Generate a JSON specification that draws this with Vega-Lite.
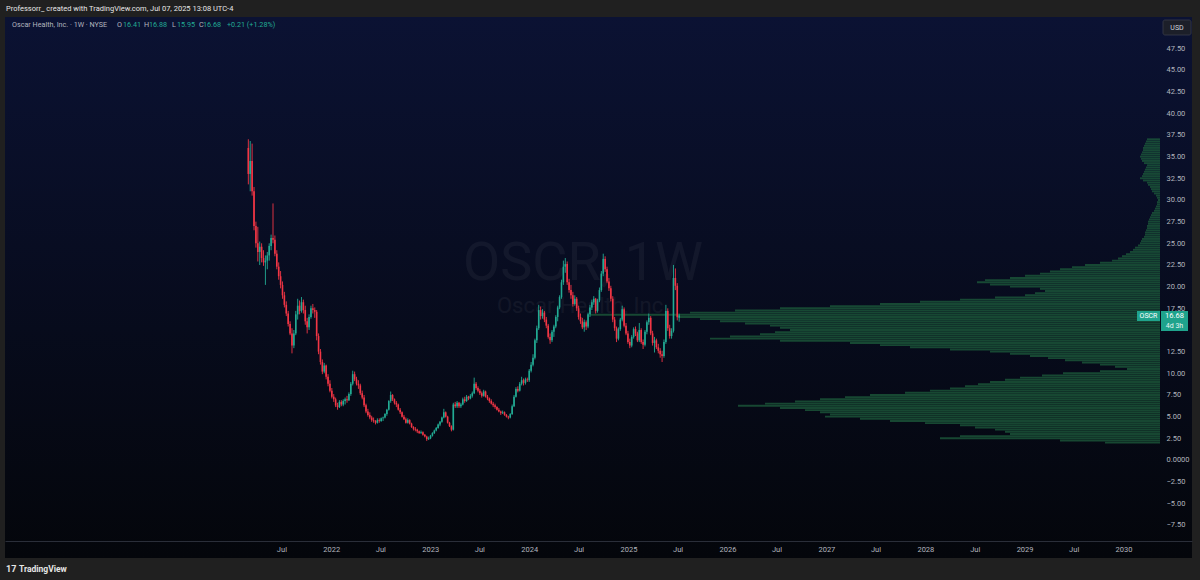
{
"$schema": "https://vega.github.io/schema/vega-lite/v6.json",
"width": 1187, "height": 541,
"autosize": {"type": "none"},
"padding": {"left": 5, "top": 17, "right": 8, "bottom": 22},
"background": "#202020",
"config": {"view": {"stroke": null}, "font": "Roboto", "text": {"font": "Roboto"}, "axis": {"labelOverlap": false}},
"datasets": {
"ohlc": [
{"d":"2021-03-01","o":36.0,"h":37.0,"l":31.8,"c":33.0},
{"d":"2021-03-08","o":33.0,"h":36.8,"l":31.0,"c":34.5},
{"d":"2021-03-15","o":34.5,"h":36.5,"l":30.5,"c":31.0},
{"d":"2021-03-22","o":31.0,"h":31.5,"l":26.5,"c":27.0},
{"d":"2021-03-29","o":27.0,"h":27.5,"l":24.5,"c":25.0},
{"d":"2021-04-05","o":25.0,"h":26.9,"l":22.9,"c":24.0},
{"d":"2021-04-12","o":24.0,"h":25.2,"l":22.5,"c":24.6},
{"d":"2021-04-19","o":24.6,"h":25.0,"l":22.8,"c":23.3},
{"d":"2021-04-26","o":23.3,"h":24.2,"l":22.4,"c":22.8},
{"d":"2021-05-03","o":22.8,"h":23.6,"l":20.2,"c":23.0},
{"d":"2021-05-10","o":23.0,"h":24.0,"l":22.0,"c":23.6},
{"d":"2021-05-17","o":23.6,"h":25.0,"l":23.0,"c":24.7},
{"d":"2021-05-24","o":24.7,"h":26.0,"l":24.2,"c":25.6},
{"d":"2021-05-31","o":25.6,"h":29.6,"l":25.0,"c":25.4},
{"d":"2021-06-07","o":25.4,"h":25.9,"l":23.5,"c":23.8},
{"d":"2021-06-14","o":23.8,"h":24.2,"l":22.0,"c":22.3},
{"d":"2021-06-21","o":22.3,"h":22.8,"l":20.8,"c":21.2},
{"d":"2021-06-28","o":21.2,"h":21.8,"l":19.8,"c":20.2},
{"d":"2021-07-05","o":20.2,"h":20.6,"l":18.6,"c":19.0},
{"d":"2021-07-12","o":19.0,"h":19.4,"l":17.6,"c":17.9},
{"d":"2021-07-19","o":17.9,"h":18.3,"l":16.6,"c":16.9},
{"d":"2021-07-26","o":16.9,"h":17.2,"l":15.4,"c":15.7},
{"d":"2021-08-02","o":15.7,"h":16.0,"l":14.4,"c":14.6},
{"d":"2021-08-09","o":14.6,"h":15.2,"l":12.3,"c":13.2},
{"d":"2021-08-16","o":13.2,"h":15.0,"l":12.9,"c":14.6},
{"d":"2021-08-23","o":14.6,"h":17.2,"l":14.4,"c":16.8},
{"d":"2021-08-30","o":16.8,"h":18.6,"l":16.2,"c":17.8},
{"d":"2021-09-06","o":17.8,"h":18.4,"l":16.8,"c":17.2},
{"d":"2021-09-13","o":17.2,"h":18.8,"l":17.0,"c":18.2},
{"d":"2021-09-20","o":18.2,"h":18.5,"l":16.9,"c":17.3},
{"d":"2021-09-27","o":17.3,"h":17.8,"l":15.6,"c":16.0},
{"d":"2021-10-04","o":16.0,"h":16.4,"l":14.6,"c":15.3},
{"d":"2021-10-11","o":15.3,"h":16.8,"l":15.0,"c":16.5},
{"d":"2021-10-18","o":16.5,"h":17.8,"l":16.3,"c":17.5},
{"d":"2021-10-25","o":17.5,"h":18.0,"l":16.9,"c":17.3},
{"d":"2021-11-01","o":17.3,"h":17.6,"l":16.4,"c":17.1},
{"d":"2021-11-08","o":17.1,"h":17.3,"l":13.8,"c":14.3},
{"d":"2021-11-15","o":14.3,"h":14.6,"l":12.2,"c":12.5},
{"d":"2021-11-22","o":12.5,"h":12.8,"l":11.0,"c":11.3},
{"d":"2021-11-29","o":11.3,"h":11.6,"l":9.9,"c":10.2},
{"d":"2021-12-06","o":10.2,"h":11.2,"l":10.0,"c":10.9},
{"d":"2021-12-13","o":10.9,"h":11.0,"l":9.3,"c":9.6},
{"d":"2021-12-20","o":9.6,"h":9.9,"l":8.5,"c":8.8},
{"d":"2021-12-27","o":8.8,"h":9.2,"l":7.8,"c":8.0},
{"d":"2022-01-03","o":8.0,"h":8.3,"l":7.1,"c":7.3},
{"d":"2022-01-10","o":7.3,"h":7.6,"l":6.7,"c":7.0},
{"d":"2022-01-17","o":7.0,"h":7.2,"l":6.1,"c":6.3},
{"d":"2022-01-24","o":6.3,"h":6.6,"l":5.8,"c":6.1},
{"d":"2022-01-31","o":6.1,"h":6.9,"l":6.0,"c":6.7},
{"d":"2022-02-07","o":6.7,"h":6.9,"l":6.2,"c":6.4},
{"d":"2022-02-14","o":6.4,"h":7.0,"l":6.2,"c":6.8},
{"d":"2022-02-21","o":6.8,"h":7.2,"l":6.4,"c":7.0},
{"d":"2022-02-28","o":7.0,"h":7.4,"l":6.6,"c":6.9},
{"d":"2022-03-07","o":6.9,"h":7.8,"l":6.8,"c":7.6},
{"d":"2022-03-14","o":7.6,"h":9.0,"l":7.4,"c":8.8},
{"d":"2022-03-21","o":8.8,"h":10.3,"l":8.6,"c":9.9},
{"d":"2022-03-28","o":9.9,"h":10.2,"l":9.1,"c":9.3},
{"d":"2022-04-04","o":9.3,"h":9.6,"l":8.6,"c":8.8},
{"d":"2022-04-11","o":8.8,"h":9.2,"l":8.2,"c":8.6},
{"d":"2022-04-18","o":8.6,"h":8.8,"l":7.5,"c":7.7},
{"d":"2022-04-25","o":7.7,"h":8.0,"l":7.0,"c":7.2},
{"d":"2022-05-02","o":7.2,"h":7.5,"l":6.1,"c":6.3},
{"d":"2022-05-09","o":6.3,"h":6.5,"l":5.4,"c":5.6},
{"d":"2022-05-16","o":5.6,"h":5.9,"l":5.0,"c":5.2},
{"d":"2022-05-23","o":5.2,"h":5.5,"l":4.7,"c":4.9},
{"d":"2022-05-30","o":4.9,"h":5.1,"l":4.4,"c":4.6},
{"d":"2022-06-06","o":4.6,"h":4.9,"l":4.3,"c":4.5},
{"d":"2022-06-13","o":4.5,"h":4.6,"l":4.1,"c":4.3},
{"d":"2022-06-20","o":4.3,"h":4.8,"l":4.2,"c":4.6},
{"d":"2022-06-27","o":4.6,"h":4.8,"l":4.3,"c":4.5},
{"d":"2022-07-04","o":4.5,"h":4.9,"l":4.4,"c":4.8},
{"d":"2022-07-11","o":4.8,"h":5.0,"l":4.5,"c":4.9},
{"d":"2022-07-18","o":4.9,"h":5.4,"l":4.8,"c":5.3},
{"d":"2022-07-25","o":5.3,"h":5.9,"l":5.1,"c":5.8},
{"d":"2022-08-01","o":5.8,"h":6.9,"l":5.7,"c":6.8},
{"d":"2022-08-08","o":6.8,"h":7.9,"l":6.6,"c":7.5},
{"d":"2022-08-15","o":7.5,"h":7.6,"l":6.8,"c":7.0},
{"d":"2022-08-22","o":7.0,"h":7.1,"l":6.4,"c":6.6},
{"d":"2022-08-29","o":6.6,"h":6.8,"l":6.1,"c":6.4},
{"d":"2022-09-05","o":6.4,"h":6.5,"l":5.7,"c":5.8},
{"d":"2022-09-12","o":5.8,"h":6.0,"l":5.3,"c":5.5},
{"d":"2022-09-19","o":5.5,"h":5.6,"l":4.9,"c":5.0},
{"d":"2022-09-26","o":5.0,"h":5.2,"l":4.6,"c":4.7},
{"d":"2022-10-03","o":4.7,"h":4.9,"l":4.2,"c":4.3},
{"d":"2022-10-10","o":4.3,"h":4.8,"l":4.2,"c":4.6},
{"d":"2022-10-17","o":4.6,"h":4.7,"l":4.1,"c":4.2},
{"d":"2022-10-24","o":4.2,"h":4.3,"l":3.7,"c":3.8},
{"d":"2022-10-31","o":3.8,"h":3.9,"l":3.4,"c":3.6},
{"d":"2022-11-07","o":3.6,"h":3.8,"l":3.3,"c":3.5},
{"d":"2022-11-14","o":3.5,"h":3.6,"l":3.1,"c":3.3},
{"d":"2022-11-21","o":3.3,"h":3.4,"l":3.0,"c":3.1},
{"d":"2022-11-28","o":3.1,"h":3.4,"l":3.0,"c":3.2},
{"d":"2022-12-05","o":3.2,"h":3.3,"l":2.8,"c":2.9},
{"d":"2022-12-12","o":2.9,"h":3.0,"l":2.6,"c":2.7},
{"d":"2022-12-19","o":2.7,"h":2.8,"l":2.2,"c":2.4},
{"d":"2022-12-26","o":2.4,"h":2.7,"l":2.3,"c":2.5},
{"d":"2023-01-02","o":2.5,"h":2.9,"l":2.4,"c":2.8},
{"d":"2023-01-09","o":2.8,"h":3.2,"l":2.7,"c":3.1},
{"d":"2023-01-16","o":3.1,"h":3.5,"l":3.0,"c":3.4},
{"d":"2023-01-23","o":3.4,"h":3.8,"l":3.3,"c":3.7},
{"d":"2023-01-30","o":3.7,"h":4.2,"l":3.6,"c":4.1},
{"d":"2023-02-06","o":4.1,"h":4.5,"l":3.9,"c":4.4},
{"d":"2023-02-13","o":4.4,"h":5.0,"l":4.3,"c":4.9},
{"d":"2023-02-20","o":4.9,"h":5.9,"l":4.8,"c":5.5},
{"d":"2023-02-27","o":5.5,"h":5.6,"l":4.9,"c":5.0},
{"d":"2023-03-06","o":5.0,"h":5.1,"l":4.2,"c":4.3},
{"d":"2023-03-13","o":4.3,"h":4.4,"l":3.8,"c":3.9},
{"d":"2023-03-20","o":3.9,"h":4.0,"l":3.3,"c":3.5},
{"d":"2023-03-27","o":3.5,"h":6.6,"l":3.4,"c":6.4},
{"d":"2023-04-03","o":6.4,"h":6.7,"l":6.0,"c":6.2},
{"d":"2023-04-10","o":6.2,"h":6.8,"l":6.0,"c":6.6},
{"d":"2023-04-17","o":6.6,"h":6.7,"l":6.0,"c":6.2},
{"d":"2023-04-24","o":6.2,"h":6.6,"l":6.0,"c":6.4},
{"d":"2023-05-01","o":6.4,"h":7.2,"l":6.3,"c":7.0},
{"d":"2023-05-08","o":7.0,"h":7.3,"l":6.6,"c":6.8},
{"d":"2023-05-15","o":6.8,"h":7.5,"l":6.7,"c":7.3},
{"d":"2023-05-22","o":7.3,"h":7.4,"l":6.9,"c":7.1},
{"d":"2023-05-29","o":7.1,"h":7.6,"l":7.0,"c":7.4},
{"d":"2023-06-05","o":7.4,"h":7.9,"l":7.2,"c":7.7},
{"d":"2023-06-12","o":7.7,"h":9.5,"l":7.6,"c":8.8},
{"d":"2023-06-19","o":8.8,"h":9.0,"l":8.1,"c":8.3},
{"d":"2023-06-26","o":8.3,"h":8.5,"l":7.8,"c":8.0},
{"d":"2023-07-03","o":8.0,"h":8.2,"l":7.5,"c":7.7},
{"d":"2023-07-10","o":7.7,"h":7.9,"l":7.2,"c":7.4},
{"d":"2023-07-17","o":7.4,"h":8.1,"l":7.3,"c":7.9},
{"d":"2023-07-24","o":7.9,"h":8.0,"l":7.2,"c":7.3},
{"d":"2023-07-31","o":7.3,"h":7.5,"l":6.9,"c":7.1},
{"d":"2023-08-07","o":7.1,"h":7.2,"l":6.6,"c":6.8},
{"d":"2023-08-14","o":6.8,"h":7.0,"l":6.4,"c":6.5},
{"d":"2023-08-21","o":6.5,"h":6.7,"l":6.1,"c":6.3},
{"d":"2023-08-28","o":6.3,"h":6.5,"l":5.9,"c":6.1},
{"d":"2023-09-04","o":6.1,"h":6.2,"l":5.7,"c":5.8},
{"d":"2023-09-11","o":5.8,"h":6.0,"l":5.5,"c":5.6},
{"d":"2023-09-18","o":5.6,"h":5.7,"l":5.2,"c":5.4},
{"d":"2023-09-25","o":5.4,"h":5.7,"l":5.3,"c":5.5},
{"d":"2023-10-02","o":5.5,"h":5.6,"l":5.1,"c":5.2},
{"d":"2023-10-09","o":5.2,"h":5.3,"l":4.9,"c":5.0},
{"d":"2023-10-16","o":5.0,"h":5.1,"l":4.7,"c":4.9},
{"d":"2023-10-23","o":4.9,"h":5.4,"l":4.8,"c":5.3},
{"d":"2023-10-30","o":5.3,"h":6.4,"l":5.2,"c":6.2},
{"d":"2023-11-06","o":6.2,"h":7.5,"l":6.1,"c":7.3},
{"d":"2023-11-13","o":7.3,"h":8.4,"l":7.2,"c":8.2},
{"d":"2023-11-20","o":8.2,"h":8.5,"l":7.8,"c":8.0},
{"d":"2023-11-27","o":8.0,"h":9.0,"l":7.9,"c":8.8},
{"d":"2023-12-04","o":8.8,"h":9.6,"l":8.6,"c":9.2},
{"d":"2023-12-11","o":9.2,"h":9.4,"l":8.6,"c":8.9},
{"d":"2023-12-18","o":8.9,"h":9.5,"l":8.7,"c":9.3},
{"d":"2023-12-25","o":9.3,"h":9.5,"l":9.0,"c":9.2},
{"d":"2024-01-01","o":9.2,"h":10.5,"l":9.0,"c":10.3},
{"d":"2024-01-08","o":10.3,"h":11.3,"l":10.1,"c":11.0},
{"d":"2024-01-15","o":11.0,"h":12.2,"l":10.8,"c":11.8},
{"d":"2024-01-22","o":11.8,"h":14.0,"l":11.6,"c":13.8},
{"d":"2024-01-29","o":13.8,"h":15.5,"l":13.5,"c":15.2},
{"d":"2024-02-05","o":15.2,"h":17.9,"l":15.0,"c":17.3},
{"d":"2024-02-12","o":17.3,"h":17.7,"l":16.2,"c":16.6},
{"d":"2024-02-19","o":16.6,"h":17.4,"l":16.3,"c":17.0},
{"d":"2024-02-26","o":17.0,"h":17.2,"l":15.9,"c":16.2},
{"d":"2024-03-04","o":16.2,"h":16.5,"l":15.2,"c":15.5},
{"d":"2024-03-11","o":15.5,"h":15.7,"l":14.0,"c":14.2},
{"d":"2024-03-18","o":14.2,"h":14.6,"l":13.4,"c":13.8},
{"d":"2024-03-25","o":13.8,"h":15.0,"l":13.6,"c":14.8},
{"d":"2024-04-01","o":14.8,"h":15.6,"l":14.2,"c":15.4},
{"d":"2024-04-08","o":15.4,"h":16.7,"l":15.2,"c":16.5},
{"d":"2024-04-15","o":16.5,"h":17.8,"l":16.0,"c":17.6},
{"d":"2024-04-22","o":17.6,"h":19.0,"l":17.4,"c":18.8},
{"d":"2024-04-29","o":18.8,"h":20.8,"l":18.6,"c":20.5},
{"d":"2024-05-06","o":20.5,"h":23.0,"l":20.2,"c":22.3},
{"d":"2024-05-13","o":22.3,"h":23.3,"l":21.6,"c":22.6},
{"d":"2024-05-20","o":22.6,"h":22.9,"l":20.2,"c":20.5},
{"d":"2024-05-27","o":20.5,"h":20.9,"l":19.3,"c":19.6},
{"d":"2024-06-03","o":19.6,"h":20.2,"l":18.6,"c":19.0},
{"d":"2024-06-10","o":19.0,"h":19.4,"l":17.7,"c":18.0},
{"d":"2024-06-17","o":18.0,"h":19.0,"l":17.8,"c":18.6},
{"d":"2024-06-24","o":18.6,"h":18.8,"l":17.2,"c":17.5},
{"d":"2024-07-01","o":17.5,"h":17.8,"l":16.2,"c":16.5},
{"d":"2024-07-08","o":16.5,"h":16.9,"l":15.7,"c":16.0},
{"d":"2024-07-15","o":16.0,"h":16.4,"l":15.1,"c":15.3},
{"d":"2024-07-22","o":15.3,"h":16.2,"l":14.8,"c":15.9},
{"d":"2024-07-29","o":15.9,"h":16.1,"l":15.0,"c":15.4},
{"d":"2024-08-05","o":15.4,"h":17.0,"l":15.2,"c":16.8},
{"d":"2024-08-12","o":16.8,"h":17.9,"l":16.5,"c":17.6},
{"d":"2024-08-19","o":17.6,"h":18.5,"l":17.3,"c":18.2},
{"d":"2024-08-26","o":18.2,"h":18.9,"l":17.9,"c":18.6},
{"d":"2024-09-02","o":18.6,"h":18.7,"l":16.9,"c":17.2},
{"d":"2024-09-09","o":17.2,"h":18.6,"l":17.0,"c":18.4},
{"d":"2024-09-16","o":18.4,"h":19.9,"l":18.2,"c":19.6},
{"d":"2024-09-23","o":19.6,"h":21.8,"l":19.4,"c":21.5},
{"d":"2024-09-30","o":21.5,"h":23.8,"l":21.2,"c":23.2},
{"d":"2024-10-07","o":23.2,"h":23.5,"l":21.7,"c":22.0},
{"d":"2024-10-14","o":22.0,"h":22.3,"l":20.4,"c":20.6},
{"d":"2024-10-21","o":20.6,"h":21.0,"l":19.5,"c":19.8},
{"d":"2024-10-28","o":19.8,"h":20.1,"l":18.3,"c":18.6},
{"d":"2024-11-04","o":18.6,"h":18.9,"l":15.9,"c":16.2},
{"d":"2024-11-11","o":16.2,"h":16.5,"l":14.9,"c":15.2},
{"d":"2024-11-18","o":15.2,"h":15.4,"l":13.6,"c":14.0},
{"d":"2024-11-25","o":14.0,"h":15.3,"l":13.8,"c":15.1},
{"d":"2024-12-02","o":15.1,"h":16.4,"l":14.9,"c":16.2},
{"d":"2024-12-09","o":16.2,"h":17.8,"l":16.0,"c":17.4},
{"d":"2024-12-16","o":17.4,"h":17.6,"l":15.3,"c":15.5},
{"d":"2024-12-23","o":15.5,"h":15.8,"l":14.4,"c":14.6},
{"d":"2024-12-30","o":14.6,"h":14.9,"l":13.4,"c":13.6},
{"d":"2025-01-06","o":13.6,"h":14.0,"l":12.9,"c":13.2},
{"d":"2025-01-13","o":13.2,"h":14.4,"l":13.0,"c":14.2},
{"d":"2025-01-20","o":14.2,"h":15.3,"l":14.0,"c":15.1},
{"d":"2025-01-27","o":15.1,"h":15.4,"l":14.3,"c":14.6},
{"d":"2025-02-03","o":14.6,"h":14.8,"l":13.6,"c":13.8},
{"d":"2025-02-10","o":13.8,"h":15.8,"l":13.6,"c":15.0},
{"d":"2025-02-17","o":15.0,"h":15.2,"l":13.4,"c":13.6},
{"d":"2025-02-24","o":13.6,"h":13.9,"l":12.8,"c":13.3},
{"d":"2025-03-03","o":13.3,"h":15.0,"l":13.1,"c":14.8},
{"d":"2025-03-10","o":14.8,"h":16.1,"l":14.5,"c":15.9},
{"d":"2025-03-17","o":15.9,"h":16.9,"l":15.6,"c":16.4},
{"d":"2025-03-24","o":16.4,"h":16.6,"l":14.4,"c":14.6},
{"d":"2025-03-31","o":14.6,"h":14.9,"l":13.2,"c":13.5},
{"d":"2025-04-07","o":13.5,"h":14.2,"l":12.4,"c":13.8},
{"d":"2025-04-14","o":13.8,"h":14.0,"l":12.8,"c":13.0},
{"d":"2025-04-21","o":13.0,"h":13.4,"l":12.3,"c":12.6},
{"d":"2025-04-28","o":12.6,"h":12.9,"l":11.8,"c":12.2},
{"d":"2025-05-05","o":12.2,"h":12.6,"l":11.3,"c":12.0},
{"d":"2025-05-12","o":12.0,"h":13.9,"l":11.8,"c":13.6},
{"d":"2025-05-19","o":13.6,"h":17.9,"l":13.4,"c":17.2},
{"d":"2025-05-26","o":17.2,"h":17.5,"l":14.9,"c":15.2},
{"d":"2025-06-02","o":15.2,"h":15.6,"l":14.0,"c":14.3},
{"d":"2025-06-09","o":14.3,"h":15.2,"l":14.0,"c":14.9},
{"d":"2025-06-16","o":14.9,"h":22.5,"l":14.7,"c":21.0},
{"d":"2025-06-23","o":21.0,"h":22.1,"l":19.6,"c":20.1},
{"d":"2025-06-30","o":20.1,"h":20.4,"l":16.1,"c":16.47},
{"d":"2025-07-07","o":16.41,"h":16.88,"l":15.95,"c":16.68}
],
"vp": [
{"p":2.0,"v":55},{"p":2.25,"v":100},{"p":2.5,"v":220},{"p":2.75,"v":200},{"p":3.0,"v":150},{"p":3.25,"v":155},{"p":3.5,"v":165},{"p":3.75,"v":185},
{"p":4.0,"v":200},{"p":4.25,"v":235},{"p":4.5,"v":270},{"p":4.75,"v":300},{"p":5.0,"v":335},{"p":5.25,"v":330},{"p":5.5,"v":340},{"p":5.75,"v":355},
{"p":6.0,"v":380},{"p":6.25,"v":422},{"p":6.5,"v":395},{"p":6.75,"v":365},{"p":7.0,"v":340},{"p":7.25,"v":315},{"p":7.5,"v":290},{"p":7.75,"v":255},
{"p":8.0,"v":230},{"p":8.25,"v":210},{"p":8.5,"v":195},{"p":8.75,"v":182},{"p":9.0,"v":170},{"p":9.25,"v":155},{"p":9.5,"v":140},{"p":9.75,"v":118},
{"p":10.0,"v":97},{"p":10.25,"v":60},{"p":10.5,"v":33},{"p":10.75,"v":45},{"p":11.0,"v":60},{"p":11.25,"v":78},{"p":11.5,"v":95},{"p":11.75,"v":112},
{"p":12.0,"v":130},{"p":12.25,"v":150},{"p":12.5,"v":170},{"p":12.75,"v":210},{"p":13.0,"v":250},{"p":13.25,"v":280},{"p":13.5,"v":310},{"p":13.75,"v":380},
{"p":14.0,"v":450},{"p":14.25,"v":430},{"p":14.5,"v":400},{"p":14.75,"v":385},{"p":15.0,"v":370},{"p":15.25,"v":380},{"p":15.5,"v":390},{"p":15.75,"v":415},
{"p":16.0,"v":440},{"p":16.25,"v":460},{"p":16.5,"v":480},{"p":16.75,"v":570},{"p":17.0,"v":470},{"p":17.25,"v":425},{"p":17.5,"v":380},{"p":17.75,"v":330},
{"p":18.0,"v":280},{"p":18.25,"v":240},{"p":18.5,"v":200},{"p":18.75,"v":165},{"p":19.0,"v":135},{"p":19.25,"v":125},{"p":19.5,"v":115},{"p":19.75,"v":120},
{"p":20.0,"v":150},{"p":20.25,"v":170},{"p":20.5,"v":183},{"p":20.75,"v":175},{"p":21.0,"v":150},{"p":21.25,"v":135},{"p":21.5,"v":120},{"p":21.75,"v":110},
{"p":22.0,"v":100},{"p":22.25,"v":88},{"p":22.5,"v":75},{"p":22.75,"v":60},{"p":23.0,"v":48},{"p":23.25,"v":42},{"p":23.5,"v":38},{"p":23.75,"v":34},
{"p":24.0,"v":30},{"p":24.25,"v":27},{"p":24.5,"v":25},{"p":24.75,"v":22},{"p":25.0,"v":20},{"p":25.25,"v":19},{"p":25.5,"v":18},{"p":25.75,"v":16},
{"p":26.0,"v":15},{"p":26.25,"v":15},{"p":26.5,"v":14},{"p":26.75,"v":13},{"p":27.0,"v":13},{"p":27.25,"v":12},{"p":27.5,"v":12},{"p":27.75,"v":11},
{"p":28.0,"v":10},{"p":28.25,"v":9},{"p":28.5,"v":8},{"p":28.75,"v":6},{"p":29.0,"v":5},{"p":29.25,"v":4},{"p":29.5,"v":3},{"p":29.75,"v":3},
{"p":30.0,"v":2},{"p":30.25,"v":3},{"p":30.5,"v":4},{"p":30.75,"v":6},{"p":31.0,"v":8},{"p":31.25,"v":9},{"p":31.5,"v":10},{"p":31.75,"v":12},
{"p":32.0,"v":13},{"p":32.25,"v":17},{"p":32.5,"v":20},{"p":32.75,"v":18},{"p":33.0,"v":17},{"p":33.25,"v":16},{"p":33.5,"v":15},{"p":33.75,"v":14},
{"p":34.0,"v":13},{"p":34.25,"v":16},{"p":34.5,"v":18},{"p":34.75,"v":19},{"p":35.0,"v":20},{"p":35.25,"v":19},{"p":35.5,"v":18},{"p":35.75,"v":17},
{"p":36.0,"v":17},{"p":36.25,"v":16},{"p":36.5,"v":15},{"p":36.75,"v":14},{"p":37.0,"v":13}
]
},
"resolve": {"scale": {"x": "independent"}},
"layer": [
{"data": {"values": [{}]},
 "mark": {"type": "rect", "color": {"gradient": "linear", "x1": 0, "y1": 0, "x2": 0, "y2": 1, "stops": [{"offset": 0, "color": "#0b1233"}, {"offset": 1, "color": "#04060b"}]}},
 "encoding": {"x": {"value": 0}, "x2": {"value": "width"}, "y": {"value": 0}, "y2": {"value": "height"}}},
{"data": {"values": [{"t": "OSCR, 1W"}]},
 "mark": {"type": "text", "align": "center", "baseline": "middle", "fontSize": 54, "color": "#ffffff", "opacity": 0.045},
 "encoding": {"x": {"value": 578}, "y": {"value": 247}, "text": {"field": "t"}}},
{"data": {"values": [{"t": "Oscar Health, Inc."}]},
 "mark": {"type": "text", "align": "center", "baseline": "middle", "fontSize": 22, "color": "#ffffff", "opacity": 0.045},
 "encoding": {"x": {"value": 578}, "y": {"value": 289}, "text": {"field": "t"}}},
{"data": {"name": "vp"},
 "mark": {"type": "rule", "strokeWidth": 1.9, "color": "#1b573a", "opacity": 0.8},
 "encoding": {
   "y": {"field": "p", "type": "quantitative", "scale": {"domain": [-11.31, 51.11], "nice": false, "zero": false},
       "axis": {"orient": "right", "offset": -32, "title": null, "grid": false, "ticks": false, "domain": false, "tickCount": 60,
         "labelColor": "#b2b5be", "labelFontSize": 7.5, "labelFont": "Roboto", "labelAlign": "left", "labelBaseline": "middle", "labelPadding": 6, "labelOverlap": false, "labelFlush": false, "zindex": 1,
         "values": [-7.5, -5, -2.5, 0, 2.5, 5, 7.5, 10, 12.5, 17.5, 20, 22.5, 25, 27.5, 30, 32.5, 35, 37.5, 40, 42.5, 45, 47.5],
         "labelExpr": "datum.value == 0 ? '0.0000' : format(datum.value, '.2f')"}},
   "x": {"field": "v", "type": "quantitative", "scale": {"domain": [0, 1155], "range": [1155, 0]}, "axis": null},
   "x2": {"value": 1155}}},
{"data": {"name": "ohlc"},
 "layer": [
  {"mark": {"type": "rule", "strokeWidth": 0.9},
   "encoding": {
     "x": {"field": "d", "type": "temporal",
       "scale": {"domain": [{"year": 2018, "month": 10, "date": 4}, {"year": 2030, "month": 8, "date": 23}]},
       "axis": {"orient": "bottom", "offset": -17, "title": null, "grid": false, "ticks": false, "domainColor": "#2a2e39", "domainWidth": 1, "tickCount": 60,
         "labelColor": "#b2b5be", "labelFontSize": 7.5, "labelFont": "Roboto", "labelPadding": 4, "labelOverlap": false, "labelFlush": false, "zindex": 1,
         "values": [{"year": 2021, "month": 7, "date": 1}, {"year": 2022, "month": 1, "date": 1}, {"year": 2022, "month": 7, "date": 1}, {"year": 2023, "month": 1, "date": 1}, {"year": 2023, "month": 7, "date": 1}, {"year": 2024, "month": 1, "date": 1}, {"year": 2024, "month": 7, "date": 1}, {"year": 2025, "month": 1, "date": 1}, {"year": 2025, "month": 7, "date": 1}, {"year": 2026, "month": 1, "date": 1}, {"year": 2026, "month": 7, "date": 1}, {"year": 2027, "month": 1, "date": 1}, {"year": 2027, "month": 7, "date": 1}, {"year": 2028, "month": 1, "date": 1}, {"year": 2028, "month": 7, "date": 1}, {"year": 2029, "month": 1, "date": 1}, {"year": 2029, "month": 7, "date": 1}, {"year": 2030, "month": 1, "date": 1}],
         "labelExpr": "month(datum.value) == 6 ? 'Jul' : timeFormat(datum.value, '%Y')"}},
     "y": {"field": "l", "type": "quantitative", "scale": {"domain": [-11.31, 51.11], "nice": false, "zero": false},
       "axis": {"orient": "right", "offset": -32, "title": null, "grid": false, "ticks": false, "domain": false, "tickCount": 60,
         "labelColor": "#b2b5be", "labelFontSize": 7.5, "labelFont": "Roboto", "labelAlign": "left", "labelBaseline": "middle", "labelPadding": 6, "labelOverlap": false, "labelFlush": false, "zindex": 1,
         "values": [-7.5, -5, -2.5, 0, 2.5, 5, 7.5, 10, 12.5, 17.5, 20, 22.5, 25, 27.5, 30, 32.5, 35, 37.5, 40, 42.5, 45, 47.5],
         "labelExpr": "datum.value == 0 ? '0.0000' : format(datum.value, '.2f')"}},
     "y2": {"field": "h"},
     "color": {"condition": {"test": "datum.c >= datum.o", "value": "#22ab94"}, "value": "#f23645"}}},
  {"mark": {"type": "bar", "size": 1.6},
   "encoding": {
     "x": {"field": "d", "type": "temporal"},
     "y": {"field": "o", "type": "quantitative"},
     "y2": {"field": "c"},
     "color": {"condition": {"test": "datum.c >= datum.o", "value": "#22ab94"}, "value": "#f23645"}}}
 ]},
{"data": {"values": [{}]},
 "mark": {"type": "rect", "color": "#1fa38c"},
 "encoding": {"x": {"value": 1132}, "x2": {"value": 1155}, "y": {"value": 294}, "y2": {"value": 304}}},
{"data": {"values": [{}]},
 "mark": {"type": "rect", "color": "#1fa38c"},
 "encoding": {"x": {"value": 1156}, "x2": {"value": 1183}, "y": {"value": 294}, "y2": {"value": 314}}},
{"data": {"values": [{"t": "OSCR"}]},
 "mark": {"type": "text", "align": "center", "baseline": "middle", "fontSize": 7, "color": "#ffffff"},
 "encoding": {"x": {"value": 1143.5}, "y": {"value": 299}, "text": {"field": "t"}}},
{"data": {"values": [{"t": "16.68"}]},
 "mark": {"type": "text", "align": "center", "baseline": "middle", "fontSize": 7.5, "color": "#ffffff"},
 "encoding": {"x": {"value": 1169.5}, "y": {"value": 299}, "text": {"field": "t"}}},
{"data": {"values": [{"t": "4d 3h"}]},
 "mark": {"type": "text", "align": "center", "baseline": "middle", "fontSize": 7, "color": "#e8f5f2"},
 "encoding": {"x": {"value": 1169.5}, "y": {"value": 308.5}, "text": {"field": "t"}}},
{"data": {"values": [{}]},
 "mark": {"type": "rect", "color": "#1c1f29", "stroke": "#3a3e4a", "strokeWidth": 0.8, "cornerRadius": 2},
 "encoding": {"x": {"value": 1158}, "x2": {"value": 1186}, "y": {"value": 3}, "y2": {"value": 18}}},
{"data": {"values": [{"t": "USD"}]},
 "mark": {"type": "text", "align": "center", "baseline": "middle", "fontSize": 7, "color": "#d1d4dc"},
 "encoding": {"x": {"value": 1172}, "y": {"value": 10.5}, "text": {"field": "t"}}},
{"data": {"values": [{"t": "Professorr_ created with TradingView.com, Jul 07, 2025 13:08 UTC-4"}]},
 "mark": {"type": "text", "align": "left", "baseline": "middle", "fontSize": 7.5, "color": "#e6e6e6"},
 "encoding": {"x": {"value": 1}, "y": {"value": -8}, "text": {"field": "t"}}},
{"data": {"values": [{"t": "Oscar Health, Inc. · 1W · NYSE"}]},
 "mark": {"type": "text", "align": "left", "baseline": "middle", "fontSize": 7.2, "color": "#b2b5be"},
 "encoding": {"x": {"value": 7}, "y": {"value": 8}, "text": {"field": "t"}}},
{"data": {"values": [{"t": "O"}]},
 "mark": {"type": "text", "align": "left", "baseline": "middle", "fontSize": 7.2, "color": "#b2b5be"},
 "encoding": {"x": {"value": 112}, "y": {"value": 8}, "text": {"field": "t"}}},
{"data": {"values": [{"t": "16.41"}]},
 "mark": {"type": "text", "align": "left", "baseline": "middle", "fontSize": 7.2, "color": "#22ab94"},
 "encoding": {"x": {"value": 118}, "y": {"value": 8}, "text": {"field": "t"}}},
{"data": {"values": [{"t": "H"}]},
 "mark": {"type": "text", "align": "left", "baseline": "middle", "fontSize": 7.2, "color": "#b2b5be"},
 "encoding": {"x": {"value": 139}, "y": {"value": 8}, "text": {"field": "t"}}},
{"data": {"values": [{"t": "16.88"}]},
 "mark": {"type": "text", "align": "left", "baseline": "middle", "fontSize": 7.2, "color": "#22ab94"},
 "encoding": {"x": {"value": 144}, "y": {"value": 8}, "text": {"field": "t"}}},
{"data": {"values": [{"t": "L"}]},
 "mark": {"type": "text", "align": "left", "baseline": "middle", "fontSize": 7.2, "color": "#b2b5be"},
 "encoding": {"x": {"value": 167}, "y": {"value": 8}, "text": {"field": "t"}}},
{"data": {"values": [{"t": "15.95"}]},
 "mark": {"type": "text", "align": "left", "baseline": "middle", "fontSize": 7.2, "color": "#22ab94"},
 "encoding": {"x": {"value": 172}, "y": {"value": 8}, "text": {"field": "t"}}},
{"data": {"values": [{"t": "C"}]},
 "mark": {"type": "text", "align": "left", "baseline": "middle", "fontSize": 7.2, "color": "#b2b5be"},
 "encoding": {"x": {"value": 194}, "y": {"value": 8}, "text": {"field": "t"}}},
{"data": {"values": [{"t": "16.68"}]},
 "mark": {"type": "text", "align": "left", "baseline": "middle", "fontSize": 7.2, "color": "#22ab94"},
 "encoding": {"x": {"value": 198}, "y": {"value": 8}, "text": {"field": "t"}}},
{"data": {"values": [{"t": "+0.21 (+1.28%)"}]},
 "mark": {"type": "text", "align": "left", "baseline": "middle", "fontSize": 7.2, "color": "#22ab94"},
 "encoding": {"x": {"value": 222}, "y": {"value": 8}, "text": {"field": "t"}}},
{"data": {"values": [{"t": "17"}]},
 "mark": {"type": "text", "align": "left", "baseline": "middle", "fontSize": 9, "fontWeight": "bold", "color": "#e6e6e6"},
 "encoding": {"x": {"value": 1}, "y": {"value": 552}, "text": {"field": "t"}}},
{"data": {"values": [{"t": "TradingView"}]},
 "mark": {"type": "text", "align": "left", "baseline": "middle", "fontSize": 8.5, "fontWeight": "bold", "color": "#e6e6e6"},
 "encoding": {"x": {"value": 14}, "y": {"value": 552}, "text": {"field": "t"}}}
]
}
